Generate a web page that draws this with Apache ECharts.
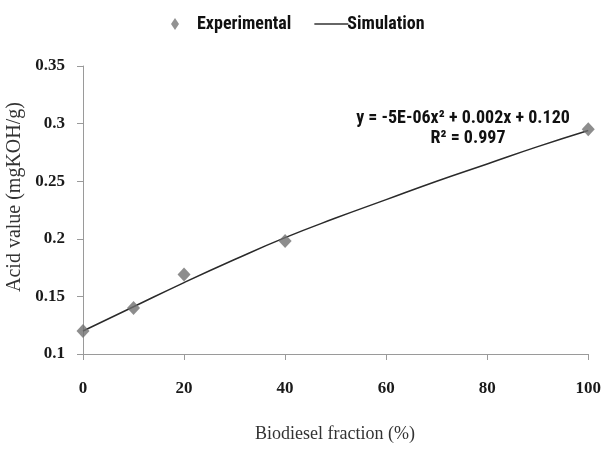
<!DOCTYPE html>
<html>
<head>
<meta charset="utf-8">
<script src="https://cdn.jsdelivr.net/npm/echarts@6/dist/echarts.min.js"></script>
<style>html,body{margin:0;padding:0;background:#fff}#c{width:604px;height:450px}</style>
</head>
<body>
<div id="c"></div>
<script>
// Experimental points
const expX = [0, 10, 20, 40, 100];
const expY = [0.12, 0.14, 0.169, 0.198, 0.295];
// Simulation (fitted curve)
const simX = [0, 10, 20, 30, 40, 50, 60, 70, 80, 90, 100];
const simY = [0.12, 0.141, 0.162, 0.182, 0.201, 0.218, 0.234, 0.25, 0.265, 0.28, 0.294];
// Tick labels
const xTicks = [0, 20, 40, 60, 80, 100];
const yTicks = [0.1, 0.15, 0.2, 0.25, 0.3, 0.35];

const narrow = '"Liberation Sans Narrow", "Roboto Condensed", "Noto Sans", sans-serif';
const serif = '"Liberation Serif", "DejaVu Serif", serif';

const chart = echarts.init(document.getElementById('c'));
chart.setOption({
  animation: false,
  backgroundColor: '#fff',
  grid: { left: 83, right: 15, top: 66, bottom: 96, containLabel: false },
  legend: {
    top: 10, left: 166,
    itemWidth: 34, itemHeight: 12, itemGap: 23,
    textStyle: { fontFamily: narrow, fontSize: 18, fontWeight: 'bold', color: '#111' },
    data: [
      { name: 'Experimental', icon: 'path://M4,0L8,6L4,12L0,6Z', itemStyle: { color: '#777' } },
      { name: 'Simulation', icon: 'path://M0,0L34,0L34,1.4L0,1.4Z', itemStyle: { color: '#333' },
        textStyle: { padding: [0, 0, 0, -6] } }
    ]
  },
  xAxis: {
    type: 'value', min: 0, max: 100, interval: 20,
    axisLine: { lineStyle: { color: '#9a9a9a', width: 1 } },
    axisTick: { show: true, length: 6, lineStyle: { color: '#9a9a9a' } },
    splitLine: { show: false },
    axisLabel: { fontFamily: serif, fontSize: 17, fontWeight: 'bold', color: '#1a1a1a', margin: 26,
      formatter: v => xTicks.includes(v) ? String(v) : '' }
  },
  yAxis: {
    type: 'value', min: 0.1, max: 0.35, interval: 0.05,
    axisLine: { show: true, lineStyle: { color: '#9a9a9a', width: 1 } },
    axisTick: { show: true, length: 6, lineStyle: { color: '#9a9a9a' } },
    splitLine: { show: false },
    axisLabel: { fontFamily: serif, fontSize: 17, fontWeight: 'bold', color: '#1a1a1a', margin: 18,
      formatter: v => { const t = yTicks.find(k => Math.abs(k - v) < 1e-9); return t === undefined ? '' : String(t); } }
  },
  graphic: [
    { type: 'text', x: 15, y: 197, rotation: Math.PI / 2,
      style: { text: 'Acid value (mgKOH/g)', fontFamily: serif, fontSize: 20, fill: '#333', textAlign: 'center', textVerticalAlign: 'middle' } },
    { type: 'text', x: 335, y: 434,
      style: { text: 'Biodiesel fraction (%)', fontFamily: serif, fontSize: 18, fill: '#333', textAlign: 'center', textVerticalAlign: 'middle' } },
    { type: 'text', x: 463, y: 118,
      style: { text: 'y = -5E-06x² + 0.002x + 0.120', fontFamily: narrow, fontSize: 18, fontWeight: 'bold', fill: '#111', textAlign: 'center', textVerticalAlign: 'middle' } },
    { type: 'text', x: 468, y: 138,
      style: { text: 'R² = 0.997', fontFamily: narrow, fontSize: 18, fontWeight: 'bold', fill: '#111', textAlign: 'center', textVerticalAlign: 'middle' } }
  ],
  series: [
    {
      name: 'Simulation', type: 'line', smooth: true, symbol: 'none',
      data: simX.map((x, i) => [x, simY[i]]),
      lineStyle: { color: '#2a2a2a', width: 1.5 }, itemStyle: { color: '#2a2a2a' }, z: 2
    },
    {
      name: 'Experimental', type: 'scatter', symbol: 'diamond', symbolSize: [13, 14],
      data: expX.map((x, i) => [x, expY[i]]),
      itemStyle: { color: '#717171' }, z: 3
    }
  ]
});
</script>
</body>
</html>
